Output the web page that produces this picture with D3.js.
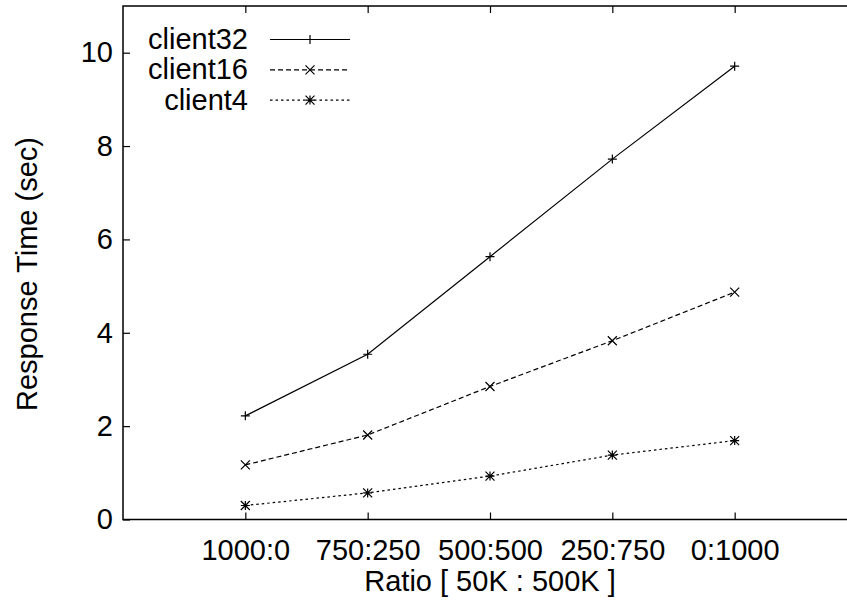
<!DOCTYPE html>
<html>
<head>
<meta charset="utf-8">
<script src="https://cdn.jsdelivr.net/npm/d3@7"></script>
<style>
  html, body { margin: 0; padding: 0; background: #fff; }
  svg { display: block; }
  text { font-family: "Liberation Sans", Arial, Helvetica, sans-serif; fill: #000; }
</style>
</head>
<body>
<svg id="chart" width="847" height="600"></svg>
<script>
// Mix ratios of 50K : 500K requests
const categories = ["1000:0", "750:250", "500:500", "250:750", "0:1000"];

// Response time (sec) per client count
const client32 = [2.22, 3.54, 5.63, 7.72, 9.71];
const client16 = [1.17, 1.81, 2.85, 3.83, 4.87];
const client4  = [0.30, 0.57, 0.93, 1.38, 1.69];

const seriesNames = ["client32", "client16", "client4"];
const yTicks = [0, 2, 4, 6, 8, 10];

const series = [
  { name: seriesNames[0], values: client32, dash: null,  marker: "plus" },
  { name: seriesNames[1], values: client16, dash: "5,3", marker: "cross" },
  { name: seriesNames[2], values: client4,  dash: "2.5,3", marker: "star" }
];

const svg = d3.select("#chart");
const FONT = 29;

const plotLeft = 123, plotRight = 857, plotTop = 6, plotBottom = 519.5;

const x = d3.scalePoint().domain(categories).range([plotLeft, plotRight]).padding(1);
const y = d3.scaleLinear().domain([0, 11]).range([plotBottom, plotTop]);

// frame
svg.append("rect")
  .attr("x", plotLeft).attr("y", plotTop)
  .attr("width", plotRight - plotLeft).attr("height", plotBottom - plotTop)
  .attr("fill", "none").attr("stroke", "#000").attr("stroke-width", 1.5);

// bottom axis: inward ticks + labels (baseline ~40px below the axis)
const gx = svg.append("g").attr("transform", `translate(0,${plotBottom})`)
  .call(d3.axisBottom(x).tickSize(-7).tickPadding(0));
gx.select(".domain").remove();
gx.selectAll("line").attr("stroke", "#000").attr("stroke-width", 1.2);
gx.selectAll("text").attr("font-size", FONT).attr("fill", "#000")
  .attr("y", 40.5).attr("dy", null)
  .style("font-family", '"Liberation Sans", Arial, sans-serif');

// top mirror ticks
const gxt = svg.append("g").attr("transform", `translate(0,${plotTop})`)
  .call(d3.axisTop(x).tickSize(-7).tickFormat(""));
gxt.select(".domain").remove();
gxt.selectAll("line").attr("stroke", "#000").attr("stroke-width", 1.2);

// left axis
const gy = svg.append("g").attr("transform", `translate(${plotLeft},0)`)
  .call(d3.axisLeft(y).tickValues(yTicks).tickSize(-7).tickPadding(10));
gy.select(".domain").remove();
gy.selectAll("line").attr("stroke", "#000").attr("stroke-width", 1.2);
gy.selectAll("text").attr("font-size", FONT).attr("fill", "#000")
  .style("font-family", '"Liberation Sans", Arial, sans-serif');

// axis titles
svg.append("text")
  .attr("x", (plotLeft + plotRight) / 2).attr("y", 591)
  .attr("text-anchor", "middle").attr("font-size", FONT)
  .text("Ratio [ 50K : 500K ]");

svg.append("text")
  .attr("transform", `translate(37,274) rotate(-90)`)
  .attr("text-anchor", "middle").attr("font-size", FONT)
  .text("Response Time (sec)");

// marker shapes
function drawMarker(g, type, cx, cy) {
  const s = 4.5;
  const paths = [];
  if (type === "plus" || type === "star") {
    paths.push(`M${cx - s},${cy}L${cx + s},${cy}M${cx},${cy - s}L${cx},${cy + s}`);
  }
  if (type === "cross" || type === "star") {
    paths.push(`M${cx - s},${cy - s}L${cx + s},${cy + s}M${cx - s},${cy + s}L${cx + s},${cy - s}`);
  }
  g.append("path").attr("d", paths.join(""))
    .attr("stroke", "#000").attr("stroke-width", 1.2).attr("fill", "none");
}

const line = d3.line()
  .x((d, i) => x(categories[i]))
  .y(d => y(d));

series.forEach(s => {
  const g = svg.append("g");
  g.append("path")
    .datum(s.values)
    .attr("d", line)
    .attr("fill", "none")
    .attr("stroke", "#000")
    .attr("stroke-width", 1.2)
    .attr("stroke-dasharray", s.dash);
  s.values.forEach((v, i) => drawMarker(g, s.marker, x(categories[i]), y(v)));
});

// legend
const legendTextX = 248, sampleX0 = 270, sampleX1 = 350, legendY0 = 39.5, legendStep = 30.3;
series.forEach((s, i) => {
  const ly = legendY0 + i * legendStep;
  const g = svg.append("g");
  g.append("text")
    .attr("x", legendTextX).attr("y", ly).attr("dy", "0.33em")
    .attr("text-anchor", "end").attr("font-size", FONT)
    .text(s.name);
  g.append("line")
    .attr("x1", sampleX0).attr("x2", sampleX1)
    .attr("y1", ly).attr("y2", ly)
    .attr("stroke", "#000").attr("stroke-width", 1.2)
    .attr("stroke-dasharray", s.dash);
  drawMarker(g, s.marker, (sampleX0 + sampleX1) / 2, ly);
});
</script>
</body>
</html>
